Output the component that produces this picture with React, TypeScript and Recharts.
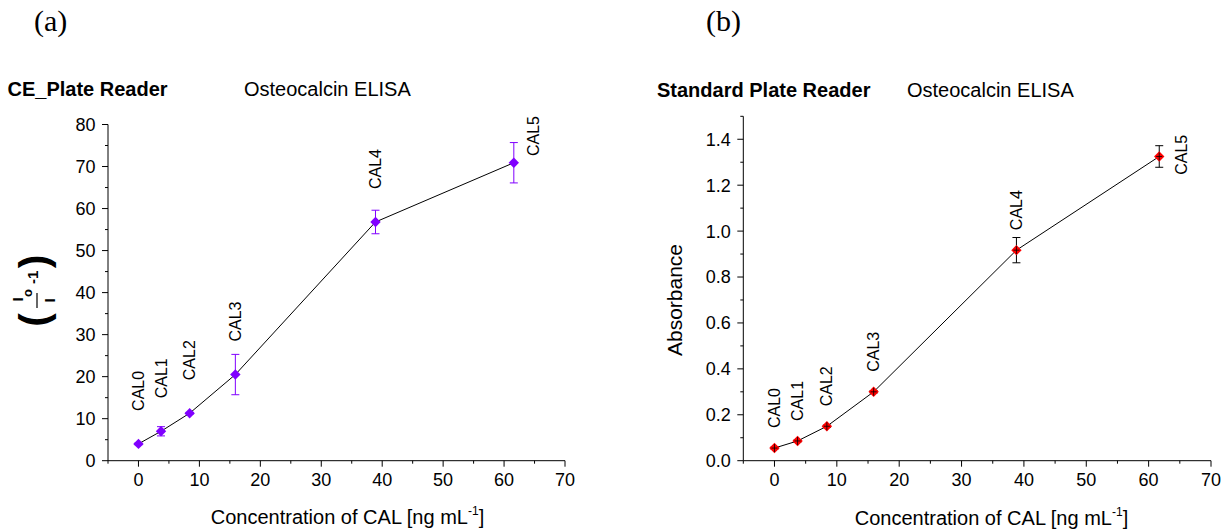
import React from "react";
import {
  ComposedChart,
  Line,
  XAxis,
  YAxis,
  ErrorBar,
  LabelList,
} from "recharts";

const calNames = ["CAL0", "CAL1", "CAL2", "CAL3", "CAL4", "CAL5"];

// (a) CE plate reader
const concCE = [0, 3.7, 8.4, 15.9, 38.9, 61.6];
const ratioCE = [4.0, 7.0, 11.3, 20.5, 56.8, 70.9];
const ratioErrCE = [0.2, 1.1, 0.2, 4.8, 2.8, 4.8];

// (b) standard plate reader
const concStd = [0, 3.7, 8.4, 15.9, 38.8, 61.7];
const absStd = [0.055, 0.086, 0.15, 0.3, 0.917, 1.325];
const absErrStd = [0.004, 0.004, 0.005, 0.005, 0.055, 0.047];

const xTicks = [-5, 0, 5, 10, 15, 20, 25, 30, 35, 40, 45, 50, 55, 60, 65, 70];
const ceTicks = [0, 5, 10, 15, 20, 25, 30, 35, 40, 45, 50, 55, 60, 65, 70, 75, 80];
const absTicks = [0, 0.1, 0.2, 0.3, 0.4, 0.5, 0.6, 0.7, 0.8, 0.9, 1.0, 1.1, 1.2, 1.3, 1.4, 1.5];

const FONT = "'Liberation Sans', Arial, sans-serif";
const SERIF = "'Liberation Serif', 'Times New Roman', serif";

const ceData = calNames.map((name, i) => ({
  name,
  x: concCE[i],
  y: ratioCE[i],
  err: ratioErrCE[i],
}));
const stdData = calNames.map((name, i) => ({
  name,
  x: concStd[i],
  y: absStd[i],
  err: absErrStd[i],
}));

const XTick = (props: any) => {
  const { x, y, payload } = props;
  const v = payload.value;
  const major = Math.round(v) % 10 === 0;
  return (
    <g>
      <line x1={x} x2={x} y1={y} y2={y + (major ? 6 : 3)} stroke="#000" />
      {major && (
        <text x={x} y={y + 25.5} textAnchor="middle" fontSize={18} fontFamily={FONT} fill="#000">
          {v}
        </text>
      )}
    </g>
  );
};

const makeYTick = (isMajor: (v: number) => boolean, fmt: (v: number) => string) => (props: any) => {
  const { x, y, payload } = props;
  const v = payload.value;
  const major = isMajor(v);
  return (
    <g>
      <line x1={x} x2={x - (major ? 6 : 3)} y1={y} y2={y} stroke="#000" />
      {major && (
        <text x={x - 12.5} y={y + 6.4} textAnchor="end" fontSize={18} fontFamily={FONT} fill="#000">
          {fmt(v)}
        </text>
      )}
    </g>
  );
};

const makeDiamond = (fill: string, cross: boolean) => (props: any) => {
  const { cx, cy, index } = props;
  if (cx == null || cy == null) return <g key={index} />;
  const r = 5.2;
  return (
    <g key={index}>
      <polygon
        points={`${cx},${cy - r} ${cx + r},${cy} ${cx},${cy + r} ${cx - r},${cy}`}
        fill={fill}
      />
      {cross && (
        <g stroke="#000" strokeWidth={0.8}>
          <line x1={cx} x2={cx} y1={cy - 4} y2={cy + 4} />
          <line x1={cx - 3} x2={cx + 3} y1={cy} y2={cy} />
        </g>
      )}
    </g>
  );
};

const makeCalLabel = (gap: number, lastDx: number, lastStart: number) => (props: any) => {
  const { x, y, value, index } = props;
  const last = index === calNames.length - 1;
  const lx = last ? x + lastDx : x;
  const ly = last ? y + lastStart : y - gap;
  return (
    <text
      x={lx}
      y={ly}
      transform={`rotate(-90 ${lx} ${ly})`}
      textAnchor="start"
      dominantBaseline="central"
      fontSize={16}
      fontFamily={FONT}
      fill="#000"
    >
      {value}
    </text>
  );
};

interface CalChartProps {
  data: { name: string; x: number; y: number; err: number }[];
  left: number;
  width: number;
  margin: { top: number; right: number; bottom: number; left: number };
  yDomain: [number, number];
  yTicks: number[];
  yTick: (p: any) => React.ReactElement;
  color: string;
  errColor: string;
  cross: boolean;
  label: (p: any) => React.ReactElement;
}

const CalChart = ({ data, left, width, margin, yDomain, yTicks, yTick, color, errColor, cross, label }: CalChartProps) => (
  <div style={{ position: "absolute", left, top: 0 }}>
    <ComposedChart width={width} height={531} data={data} margin={margin}>
      <XAxis
        dataKey="x"
        type="number"
        domain={[-5, 70]}
        ticks={xTicks}
        interval={0}
        allowDataOverflow
        height={30}
        tickSize={0}
        tickMargin={0}
        tickLine={false}
        axisLine={{ stroke: "#000" }}
        tick={XTick}
      />
      <YAxis
        type="number"
        domain={yDomain}
        ticks={yTicks}
        interval={0}
        allowDataOverflow
        width={60}
        tickSize={0}
        tickMargin={0}
        tickLine={false}
        axisLine={{ stroke: "#000" }}
        tick={yTick}
      />
      <Line
        type="linear"
        dataKey="y"
        stroke="#000"
        strokeWidth={1}
        dot={makeDiamond(color, cross)}
        activeDot={false}
        isAnimationActive={false}
      >
        <ErrorBar dataKey="err" direction="y" width={4} strokeWidth={1} stroke={errColor} />
        <LabelList dataKey="name" content={label} />
      </Line>
    </ComposedChart>
  </div>
);

const AxisTitle = ({ x, y }: { x: number; y: number }) => (
  <text x={x} y={y} textAnchor="middle" fontSize={20} fontFamily={FONT} fill="#000">
    Concentration of CAL [ng mL
    <tspan fontSize={12} dy={-9}>-1</tspan>
    <tspan dy={9}>]</tspan>
  </text>
);

export default function App() {
  return (
    <div style={{ position: "absolute", left: 0, top: 0, width: 1229, height: 531, background: "#fff" }}>
      <CalChart
        data={ceData}
        left={0}
        width={600}
        margin={{ top: 124.5, right: 35, bottom: 40.3, left: 48 }}
        yDomain={[0, 80]}
        yTicks={ceTicks}
        yTick={makeYTick((v) => v % 10 === 0, (v) => String(v))}
        color="#8000ff"
        errColor="#8000ff"
        cross={false}
        label={makeCalLabel(33, 20, -6.7)}
      />
      <CalChart
        data={stdData}
        left={620}
        width={609}
        margin={{ top: 116.3, right: 18, bottom: 40.3, left: 63.3 }}
        yDomain={[0, 1.5]}
        yTicks={absTicks}
        yTick={makeYTick((v) => Math.round(v * 10) % 2 === 0, (v) => v.toFixed(1))}
        color="#ff0000"
        errColor="#000"
        cross={true}
        label={makeCalLabel(20, 22, 18.3)}
      />
      <svg
        width={1229}
        height={531}
        style={{ position: "absolute", left: 0, top: 0, pointerEvents: "none" }}
      >
        <text x={34} y={31.3} fontSize={30} fontFamily={SERIF} fill="#000">(a)</text>
        <text x={706} y={31.3} fontSize={30} fontFamily={SERIF} fill="#000">(b)</text>

        <text x={7.5} y={96} fontSize={20} fontWeight="bold" fontFamily={FONT} fill="#000">CE_Plate Reader</text>
        <text x={244} y={96} fontSize={20} fontFamily={FONT} fill="#000">Osteocalcin ELISA</text>
        <text x={657} y={96.5} fontSize={20} fontWeight="bold" fontFamily={FONT} fill="#000">Standard Plate Reader</text>
        <text x={907} y={96.5} fontSize={20} fontFamily={FONT} fill="#000">Osteocalcin ELISA</text>

        <AxisTitle x={347.5} y={523.5} />
        <AxisTitle x={991.5} y={525} />

        <text
          x={682}
          y={300}
          transform="rotate(-90 682 300)"
          textAnchor="middle"
          fontSize={21}
          fontFamily={FONT}
          fill="#000"
        >
          Absorbance
        </text>

        <g transform="translate(35,290) rotate(-90)" fontFamily={FONT} fontWeight="bold" fill="#000">
          <text x={-30} y={13} fontSize={41} textAnchor="middle">(</text>
          <text x={-9.5} y={-12} fontSize={15} textAnchor="middle">I</text>
          <text x={-7} y={-3} fontSize={13}>o</text>
          <line x1={-18} x2={-3} y1={2} y2={2} stroke="#000" strokeWidth={1.2} />
          <text x={-10.5} y={20} fontSize={15} textAnchor="middle">I</text>
          <text x={6} y={3} fontSize={15}>-1</text>
          <text x={28.5} y={13} fontSize={41} textAnchor="middle">)</text>
        </g>
      </svg>
    </div>
  );
}
